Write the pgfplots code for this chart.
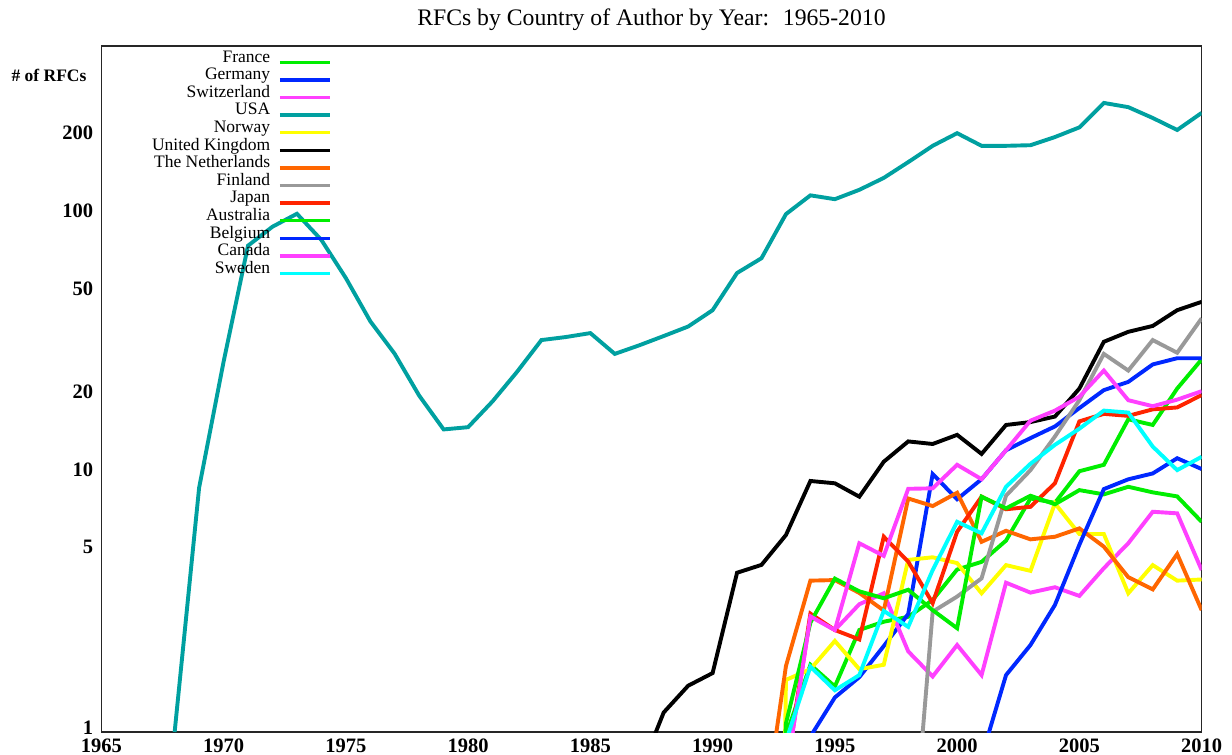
\documentclass[border=0pt]{standalone}
\usepackage{fontspec}
\setmainfont{Liberation Serif}
\usepackage{pgfplots}
\pgfplotsset{compat=1.18}
\definecolor{cgreen}{RGB}{0,238,0}
\definecolor{cblue}{RGB}{0,40,255}
\definecolor{cmag}{RGB}{255,64,255}
\definecolor{cteal}{RGB}{0,160,160}
\definecolor{cyellow}{RGB}{255,255,0}
\definecolor{corange}{RGB}{255,102,0}
\definecolor{cgray}{RGB}{153,153,153}
\definecolor{cred}{RGB}{255,36,0}
\definecolor{ccyan}{RGB}{0,255,255}
\begin{document}
\begin{tikzpicture}
\begin{axis}[
  name=ax,
  scale only axis, width=1100.4pt, height=686pt,
  xmin=1965, xmax=2010, ymode=log, ymin=1, ymax=450,
  xtick={1965,1970,1975,1980,1985,1990,1995,2000,2005,2010},
  xticklabels={1965,1970,1975,1980,1985,1990,1995,2000,2005,2010},
  ytick={1,5,10,20,50,100,200},
  yticklabels={1,5,10,20,50,100,200},
  xminorticks=false, yminorticks=false,
  major tick length=0pt,
  tick label style={font=\fontsize{20.5}{20.5}\selectfont\bfseries},
  xticklabel style={inner sep=0pt, yshift=-6.5pt},
  yticklabel style={inner sep=0pt, xshift=-8pt, yshift=4pt},
  axis line style={line width=1.3pt, black!85},
  every axis plot/.append style={line width=3.9pt, miter limit=3},
  legend style={draw=none, fill=none, at={(rel axis cs:0.2094,0.9956)}, anchor=north east,
    inner sep=0pt, outer sep=0pt, font=\fontsize{17.5}{17.6}\selectfont,
    row sep=0pt, column sep=8pt,
    nodes={inner sep=0pt, text height=13pt, text depth=4.6pt}},
  legend cell align=right,
  legend plot pos=right,
  legend image code/.code={\draw[#1, line width=3.5pt] (0pt,-4.5pt) -- (50pt,-4.5pt);},
]
% France
\addplot[cgreen] coordinates {(1993,0.97) (1994,1.82) (1995,1.50) (1996,2.48) (1997,2.67) (1998,2.79) (1999,3.24) (2000,4.25) (2001,4.55) (2002,5.5) (2003,8.0) (2004,7.7) (2005,10.2) (2006,10.8) (2007,16.2) (2008,15.4) (2009,21.3) (2010,27.6)};
\addlegendentry{France}
% Germany
\addplot[cblue] coordinates {(1994,0.96) (1995,1.36) (1996,1.63) (1997,2.15) (1998,2.86) (1999,9.95) (2000,7.95) (2001,9.5) (2002,12.3) (2003,13.7) (2004,15.2) (2005,17.9) (2006,21) (2007,22.6) (2008,26.4) (2009,27.9) (2010,27.9)};
\addlegendentry{Germany}
% Switzerland
\addplot[cmag] coordinates {(1993,0.68) (1994,2.8) (1995,2.48) (1996,3.12) (1997,3.44) (1998,2.05) (1999,1.64) (2000,2.17) (2001,1.66) (2002,3.78) (2003,3.46) (2004,3.63) (2005,3.36) (2006,4.3) (2007,5.37) (2008,7.11) (2009,7.01) (2010,4.23)};
\addlegendentry{Switzerland}
% USA
\addplot[cteal] coordinates {(1968,1) (1969,8.8) (1970,27) (1971,76) (1972,90) (1973,101) (1974,80) (1975,57) (1976,38.8) (1977,29) (1978,20) (1979,14.8) (1980,15.1) (1981,19) (1982,24.7) (1983,32.8) (1984,33.7) (1985,34.9) (1986,29) (1987,31.3) (1988,34) (1989,37) (1990,42.8) (1991,59.6) (1992,68) (1993,100.7) (1994,119) (1995,115) (1996,125) (1997,139) (1998,160) (1999,185) (2000,207) (2001,185) (2002,185) (2003,186) (2004,200) (2005,218) (2006,271) (2007,261) (2008,237) (2009,213) (2010,248)};
\addlegendentry{USA}
% Norway
\addplot[cyellow] coordinates {(1992,0.000001) (1993,1.59) (1994,1.75) (1995,2.25) (1996,1.75) (1997,1.82) (1998,4.63) (1999,4.74) (2000,4.5) (2001,3.44) (2002,4.42) (2003,4.2) (2004,7.66) (2005,5.83) (2006,5.83) (2007,3.44) (2008,4.42) (2009,3.85) (2010,3.89)};
\addlegendentry{Norway}
% United Kingdom
\addplot[black] coordinates {(1987,0.69) (1988,1.19) (1989,1.51) (1990,1.69) (1991,4.13) (1992,4.43) (1993,5.78) (1994,9.35) (1995,9.16) (1996,8.13) (1997,11.1) (1998,13.3) (1999,13.0) (2000,14.1) (2001,11.9) (2002,15.4) (2003,15.8) (2004,16.6) (2005,21.3) (2006,32.3) (2007,35.3) (2008,37.2) (2009,42.8) (2010,46.1)};
\addlegendentry{United Kingdom}
% The Netherlands
\addplot[corange] coordinates {(1992,0.40) (1993,1.8) (1994,3.85) (1995,3.87) (1996,3.45) (1997,2.95) (1998,8.0) (1999,7.48) (2000,8.42) (2001,5.44) (2002,6.0) (2003,5.56) (2004,5.69) (2005,6.13) (2006,5.21) (2007,3.97) (2008,3.56) (2009,4.88) (2010,2.96)};
\addlegendentry{The Netherlands}
% Finland
\addplot[cgray] coordinates {(1998,0.21) (1999,2.92) (2000,3.34) (2001,3.93) (2002,8.2) (2003,10.3) (2004,13.9) (2005,19.2) (2006,29) (2007,25) (2008,32.8) (2009,29.3) (2010,39.8)};
\addlegendentry{Finland}
% Japan
\addplot[cred] coordinates {(1993,0.7) (1994,2.87) (1995,2.48) (1996,2.28) (1997,5.69) (1998,4.56) (1999,3.15) (2000,5.95) (2001,8.13) (2002,7.27) (2003,7.43) (2004,9.16) (2005,15.9) (2006,17.0) (2007,16.7) (2008,17.7) (2009,18.0) (2010,20.1)};
\addlegendentry{Japan}
% Australia
\addplot[cgreen] coordinates {(1992,0.01) (1993,1.08) (1994,2.65) (1995,3.92) (1996,3.5) (1997,3.29) (1998,3.55) (1999,2.96) (2000,2.52) (2001,8.13) (2002,7.33) (2003,8.2) (2004,7.6) (2005,8.62) (2006,8.3) (2007,8.88) (2008,8.45) (2009,8.15) (2010,6.5)};
\addlegendentry{Australia}
% Belgium
\addplot[cblue] coordinates {(2001,0.8) (2002,1.66) (2003,2.17) (2004,3.1) (2005,5.3) (2006,8.7) (2007,9.49) (2008,10.0) (2009,11.45) (2010,10.4)};
\addlegendentry{Belgium}
% Canada
\addplot[cmag] coordinates {(1993,0.68) (1994,2.8) (1995,2.48) (1996,5.37) (1997,4.8) (1998,8.72) (1999,8.76) (2000,10.8) (2001,9.5) (2002,12.3) (2003,16.0) (2004,17.5) (2005,19.8) (2006,25.0) (2007,19.2) (2008,18.2) (2009,19.3) (2010,20.8)};
\addlegendentry{Canada}
% Sweden
\addplot[ccyan] coordinates {(1993,0.92) (1994,1.79) (1995,1.45) (1996,1.66) (1997,2.94) (1998,2.55) (1999,4.23) (2000,6.5) (2001,5.87) (2002,8.88) (2003,10.9) (2004,12.9) (2005,14.9) (2006,17.5) (2007,17.2) (2008,12.7) (2009,10.3) (2010,11.6)};
\addlegendentry{Sweden}
\end{axis}
\node[anchor=base, font=\fontsize{23.7}{23.7}\selectfont] at ([yshift=706pt]ax.south) {RFCs by Country of Author by Year:~ 1965-2010};
\node[anchor=base, font=\fontsize{17.5}{17.5}\selectfont\bfseries] at ([xshift=-52.3pt,yshift=650.3pt]ax.south west) {\# of RFCs};
\pgfresetboundingbox
\path ([xshift=-101.3pt,yshift=-23pt]ax.south west) rectangle ++(1232pt,755pt);
\end{tikzpicture}
\end{document}
